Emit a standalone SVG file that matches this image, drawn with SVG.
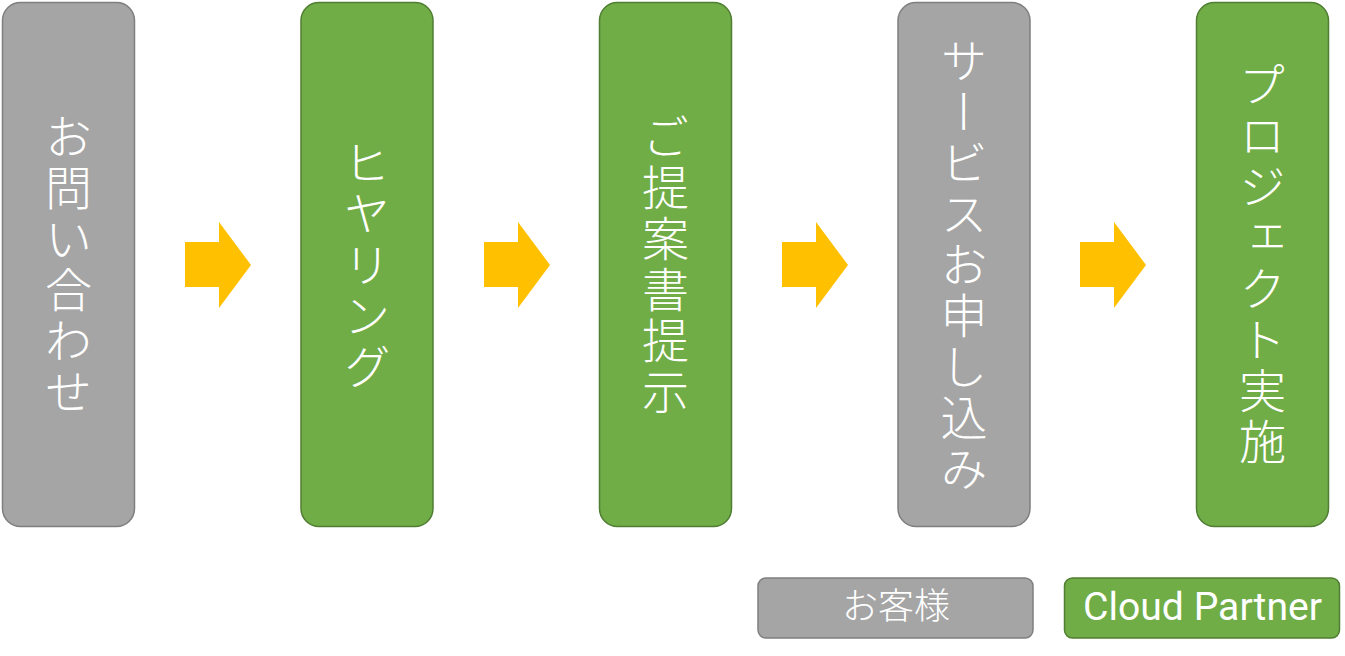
<svg xmlns="http://www.w3.org/2000/svg" width="1345" height="656" viewBox="0 0 1345 656">
<style>
.g{fill:#A5A5A5;stroke:#7F7F7F;stroke-width:1.5}
.gr{fill:#70AD47;stroke:#507E32;stroke-width:1.5}
.v{font-family:"Noto Sans CJK JP","Noto Sans",sans-serif;font-weight:300;font-size:47px;fill:#fff;writing-mode:vertical-rl;text-anchor:middle;letter-spacing:4px}
.l{font-family:"Noto Sans CJK JP","Noto Sans",sans-serif;font-weight:300;font-size:36px;fill:#fff;text-anchor:middle}
.lr{font-family:Roboto,"Noto Sans",sans-serif;font-weight:400;font-size:38px;fill:#fff}
.a{fill:#FFC000}
</style>
<defs>
<path id="arr" d="M0,20 H34 V0 L66,43 L34,86 V65 H0 Z"/>
</defs>
<g id="node1"><rect class="g" x="2.5" y="2.5" width="132" height="524" rx="18"/><text class="v" x="68.5" y="266">お問い合わせ</text></g>
<g id="node2"><rect class="gr" x="301" y="2.5" width="132" height="524" rx="18"/><text class="v" x="367" y="266">ヒヤリング</text></g>
<g id="node3"><rect class="gr" x="599.5" y="2.5" width="132" height="524" rx="18"/><text class="v" x="665.5" y="266">ご提案書提示</text></g>
<g id="node4"><rect class="g" x="898" y="2.5" width="132" height="524" rx="18"/><text class="v" x="964" y="266">サービスお申し込み</text></g>
<g id="node5"><rect class="gr" x="1196.5" y="2.5" width="132" height="524" rx="18"/><text class="v" x="1262.5" y="265">プロジェクト実施</text></g>
<g id="connectors">
<use href="#arr" class="a" x="185" y="222"/>
<use href="#arr" class="a" x="484" y="222"/>
<use href="#arr" class="a" x="782" y="222"/>
<use href="#arr" class="a" x="1080" y="222"/>
</g>
<g id="legend-customer"><rect class="g" x="758" y="578" width="275" height="60" rx="8"/><text class="l" x="896" y="619">お客様</text></g>
<g id="legend-partner"><rect class="gr" x="1064.5" y="578" width="275" height="60" rx="8"/><text class="lr" x="1083" y="620" textLength="239" lengthAdjust="spacingAndGlyphs">Cloud Partner</text></g>
</svg>
